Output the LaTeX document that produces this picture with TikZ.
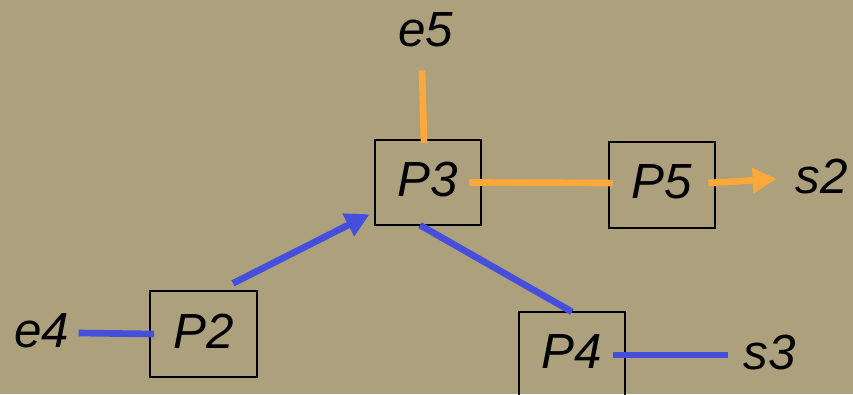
\documentclass[tikz,border=0pt]{standalone}
\usepackage{fontspec}
\setmainfont{Liberation Sans}
\usetikzlibrary{arrows.meta,calc}
\definecolor{bgtan}{RGB}{172,160,125}
\definecolor{flowblue}{RGB}{70,78,220}
\definecolor{floworange}{RGB}{252,168,58}
\begin{document}
\begin{tikzpicture}[x=0.75pt,y=-0.75pt,
  proc/.style={draw,line width=1.5pt,minimum width=80pt,minimum height=64pt,inner sep=0pt,text depth=4.5pt,font=\fontsize{37}{40}\selectfont\itshape},
  sig/.style={inner sep=0pt,font=\fontsize{37}{40}\selectfont\itshape},
  wire/.style={line width=5pt},
  flowtip/.style={-{Triangle[length=18pt,width=18pt]}}]
\fill[bgtan] (0,0) rectangle (853,394);
\useasboundingbox (0,0) rectangle (853,394);
\clip (0,0) rectangle (853,394);
% process boxes
\node[proc] (p2) at (203.5,334) {P2};
\node[proc] (p3) at (428,182.5) {P3};
\node[proc] (p4) at (572,355) {P4};
\node[proc] (p5) at (662,185) {P5};
% inputs and outputs
\node[sig] (e4) at (42,331) {e4};
\node[sig] (e5) at (426,30) {e5};
\node[sig] (s2) at (822,177) {s2};
\node[sig] (s3) at (770,353) {s3};
% orange flow
\draw[wire,floworange] ($(e5.south)+(-4,23)$) -- ($(p3.north)+(-4,4)$);
\draw[wire,floworange] ($(p3.east)+(-13,0)$) -- ($(p5.west)+(5,-2)$);
\draw[wire,floworange,flowtip] ($(p5.east)+(-8,-2)$) -- ($(s2.west)+(-19,2)$);
% blue flow
\draw[wire,flowblue] ($(e4.east)+(9,2)$) -- ($(p2.west)+(5,0)$);
\draw[wire,flowblue,flowtip] ($(p2.north)+(29.5,-7)$) -- ($(p3.south west)+(-4,-12)$);
\draw[wire,flowblue] ($(p3.south)+(-8,-1)$) -- ($(p4.north)+(0,0.5)$);
\draw[wire,flowblue] ($(p4.east)+(-13,0)$) -- ($(s3.west)+(-16,2)$);
\end{tikzpicture}
\end{document}
